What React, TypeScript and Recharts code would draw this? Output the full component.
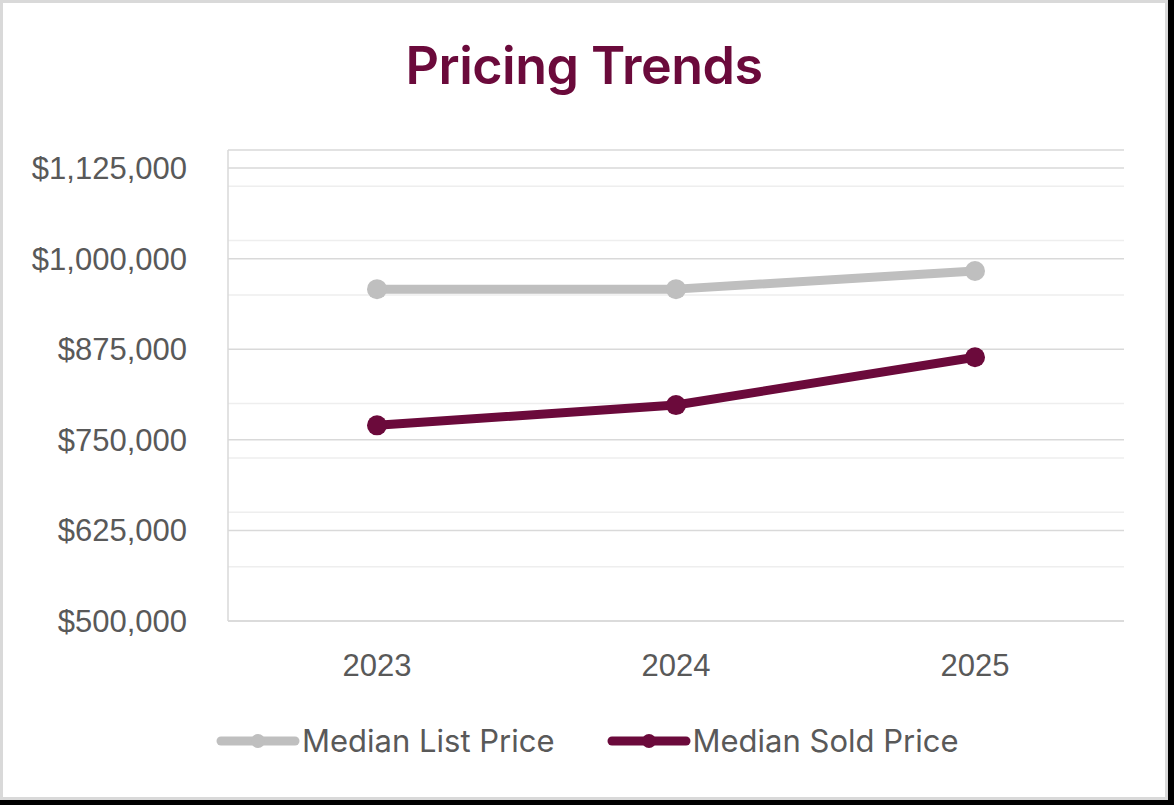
import React from 'react';
import { LineChart, Line, XAxis, YAxis, CartesianGrid, ReferenceLine } from 'recharts';

const years = ['2023', '2024', '2025'];
const listPrice = [958000, 958000, 983000];
const soldPrice = [770000, 798000, 864000];
const seriesNames = ['Median List Price', 'Median Sold Price'];
const yTicks = [500000, 625000, 750000, 875000, 1000000, 1125000];
const minorTicks = [575000, 650000, 725000, 800000, 950000, 1025000, 1100000];

const GRAY = '#bfbfbf';
const MAROON = '#6b0a3b';
const TEXT = '#595959';

const data = years.map((year, i) => ({
  year,
  list: listPrice[i],
  sold: soldPrice[i],
}));

const money = (v: number) => '$' + v.toLocaleString('en-US');

function LegendItem({ color, label }: { color: string; label: string }) {
  return (
    <div style={{ display: 'flex', alignItems: 'center' }}>
      <svg width={84} height={20}>
        <line x1={5} y1={10} x2={79} y2={10} stroke={color} strokeWidth={9} strokeLinecap='round' />
        <circle cx={42} cy={10} r={7} fill={color} />
      </svg>
      <span style={{ marginLeft: 2 }}>{label}</span>
    </div>
  );
}

export default function App() {
  return (
    <div
      style={{
        position: 'absolute',
        left: 0,
        top: 0,
        width: 1174,
        height: 805,
        background: '#000',
      }}
    >
      <div
        style={{
          position: 'absolute',
          left: 0,
          top: 0,
          width: 1168,
          height: 800,
          boxSizing: 'border-box',
          border: '3px solid #d9d9d9',
          background: '#fff',
        }}
      />
      <div
        style={{
          position: 'absolute',
          left: 0,
          top: 34,
          width: 1168,
          textAlign: 'center',
          fontFamily: 'Inter, sans-serif',
          fontWeight: 600,
          fontSize: 52,
          lineHeight: '64px',
          color: MAROON,
          letterSpacing: -0.5,
        }}
      >
        Pricing Trends
      </div>
      <div style={{ position: 'absolute', left: 0, top: 0 }}>
        <LineChart
          width={1168}
          height={800}
          data={data}
          margin={{ top: 150, right: 44, bottom: 119, left: 0 }}
        >
          <CartesianGrid vertical={false} stroke='#d9d9d9' strokeWidth={1.5} />
          {minorTicks.map((v) => (
            <ReferenceLine key={v} y={v} stroke='#eeeeee' strokeWidth={1.5} />
          ))}
          <XAxis
            dataKey='year'
            height={60}
            padding={{ left: 149, right: 149 }}
            axisLine={{ stroke: '#d9d9d9', strokeWidth: 1.5 }}
            tickLine={false}
            tickSize={0}
            tickMargin={33}
            tick={{ fill: TEXT, fontSize: 31, fontFamily: '"Liberation Sans", Arial, sans-serif' }}
          />
          <YAxis
            width={228}
            domain={[500000, 1150000]}
            ticks={yTicks}
            interval={0}
            tickFormatter={money}
            axisLine={{ stroke: '#d9d9d9', strokeWidth: 1.5 }}
            tickLine={false}
            tickSize={0}
            tickMargin={41}
            tick={{ fill: TEXT, fontSize: 31, fontFamily: '"Liberation Sans", Arial, sans-serif' }}
          />
          <Line
            type='linear'
            dataKey='list'
            name={seriesNames[0]}
            stroke={GRAY}
            strokeWidth={9}
            strokeLinecap='round'
            strokeLinejoin='round'
            dot={{ r: 10, fill: GRAY, stroke: 'none' }}
            activeDot={false}
            isAnimationActive={false}
          />
          <Line
            type='linear'
            dataKey='sold'
            name={seriesNames[1]}
            stroke={MAROON}
            strokeWidth={9}
            strokeLinecap='round'
            strokeLinejoin='round'
            dot={{ r: 10, fill: MAROON, stroke: 'none' }}
            activeDot={false}
            isAnimationActive={false}
          />
        </LineChart>
      </div>
      <div
        style={{
          position: 'absolute',
          left: 216,
          top: 720,
          display: 'flex',
          gap: 52,
          fontFamily: 'Inter, sans-serif',
          fontSize: 31,
          lineHeight: '42px',
          color: TEXT,
        }}
      >
        <LegendItem color={GRAY} label={seriesNames[0]} />
        <LegendItem color={MAROON} label={seriesNames[1]} />
      </div>
    </div>
  );
}
